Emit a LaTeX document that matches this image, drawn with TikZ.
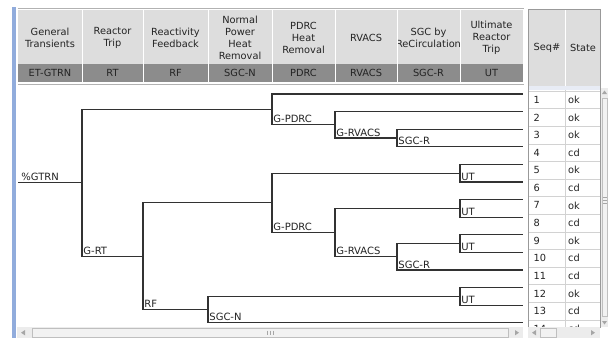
\documentclass[tikz,border=0pt]{standalone}
\usepackage{fontspec}
\setmainfont{DejaVu Sans}
\usetikzlibrary{positioning}

\definecolor{hdrgray}{RGB}{221,221,221}
\definecolor{iddark}{RGB}{140,140,140}
\definecolor{treeline}{RGB}{50,50,50}
\definecolor{txtgray}{RGB}{35,35,35}
\definecolor{gridgray}{RGB}{210,210,210}
\definecolor{barblue}{RGB}{145,172,220}
\definecolor{scrollgray}{RGB}{236,236,236}
\definecolor{selstrip}{RGB}{232,236,245}

\begin{document}
\begin{tikzpicture}[x=1pt, y=-1pt,
    branch/.style={draw=treeline, line width=1.1pt},
    lbl/.style={anchor=south west, inner xsep=1.2pt, inner ysep=1.6pt, text=txtgray, font=\fontsize{10}{12}\selectfont},
    hdr/.style={align=center, inner sep=0pt, text=txtgray, font=\fontsize{9.8}{12}\selectfont},
    cell/.style={anchor=west, inner sep=0pt, text=txtgray, font=\fontsize{9.8}{11}\selectfont},
    arrowtip/.style={fill=gray!70}]

    \useasboundingbox (0,0) rectangle (608,338);

    % Window frame bar
    \fill[barblue] (12,7) rectangle (16,338);

    % Event headings
    \fill[hdrgray] (18,10) rectangle (523,64);
    \fill[iddark] (18,64) rectangle (523,82);
    \draw[gray!60] (17.5,8.5) -- (523.5,8.5);
    \foreach \xl/\xr/\title/\id in {18/82/{General\\Transients}/ET-GTRN,
        82/143/{Reactor\\Trip}/RT, 143/208/{Reactivity\\Feedback}/RF,
        208/272/{Normal\\Power\\Heat\\Removal}/SGC-N, 272/335/{PDRC\\Heat\\Removal}/PDRC,
        335/397/RVACS/RVACS, 397/460/{SGC by\\ReCirculation}/SGC-R,
        460/523/{Ultimate\\Reactor\\Trip}/UT} {
      \draw[white, line width=1pt] (\xr,10) -- (\xr,82);
      \begin{scope}
        \clip (\xl+1,10) rectangle (\xr-1,64);
        \node[hdr] at ({(\xl+\xr)/2},37.5) {\title};
      \end{scope}
      \node[hdr] at ({(\xl+\xr)/2},73) {\id};
    }
    \draw[gray!60] (17.5,84.5) -- (523.5,84.5);

    % Sequence ends
    \foreach \i in {1,...,14}
      \coordinate (end\i) at (523,{94+17.6*(\i-1)});

    % Branch points
    \coordinate (init) at (18,182.8);
    \coordinate (rt) at (82,182.8);
    \coordinate (pdrcA) at (272,109.4);
    \coordinate (rvacsA) at (335,124.8);
    \coordinate (sgcrA) at (397,138);
    \coordinate (rf) at (143,256.25);
    \coordinate (pdrcB) at (272,202.9);
    \coordinate (utA) at (460,173.2);
    \coordinate (rvacsB) at (335,232.6);
    \coordinate (utB) at (460,208.4);
    \coordinate (sgcrB) at (397,256.8);
    \coordinate (utC) at (460,243.6);
    \coordinate (sgcn) at (208,309.6);
    \coordinate (utD) at (460,296.4);

    % Tree: up = success, down = failure
    \draw[branch] (init) -- (rt);
    \foreach \a/\b in {rt/pdrcA, rt/rf,
        pdrcA/end1, pdrcA/rvacsA, rvacsA/end2, rvacsA/sgcrA, sgcrA/end3, sgcrA/end4,
        rf/pdrcB, rf/sgcn,
        pdrcB/utA, pdrcB/rvacsB, utA/end5, utA/end6,
        rvacsB/utB, rvacsB/sgcrB, utB/end7, utB/end8,
        sgcrB/utC, sgcrB/end11, utC/end9, utC/end10,
        sgcn/utD, sgcn/end14, utD/end12, utD/end13}
      \draw[branch] (\a) |- (\b);

    % Failure branch labels
    \node[lbl, xshift=2pt] (lGTRN) at (init) {\%GTRN};
    \node[lbl] (lRT) at (rt |- rf) {G-RT};
    \node[lbl] (lRF) at (rf |- sgcn) {RF};
    \node[lbl] (lSGCN) at (sgcn |- end14) {SGC-N};
    \node[lbl] (lPDRCa) at (pdrcA |- rvacsA) {G-PDRC};
    \node[lbl] (lRVACSa) at (rvacsA |- sgcrA) {G-RVACS};
    \node[lbl] (lSGCRa) at (sgcrA |- end4) {SGC-R};
    \node[lbl] (lPDRCb) at (pdrcB |- rvacsB) {G-PDRC};
    \node[lbl] (lRVACSb) at (rvacsB |- sgcrB) {G-RVACS};
    \node[lbl] (lSGCRb) at (sgcrB |- end11) {SGC-R};
    \node[lbl] (lUTa) at (utA |- end6) {UT};
    \node[lbl] (lUTb) at (utB |- end8) {UT};
    \node[lbl] (lUTc) at (utC |- end10) {UT};
    \node[lbl] (lUTd) at (utD |- end13) {UT};

    % Sequence table
    \fill[hdrgray] (529,10) rectangle (600,86);
    \fill[selstrip] (529,86) rectangle (600,90);
    \draw[white, line width=1pt] (565,10) -- (565,86);
    \node[hdr] (seqhead) at (547,48) {Seq\#};
    \node[hdr] (statehead) at (583,48) {State};
    \begin{scope}
      \clip (529,90) rectangle (600,327);
      \draw[gridgray] (565,90) -- (565,327);
      \foreach \i/\st in {1/ok, 2/ok, 3/ok, 4/cd, 5/ok, 6/cd, 7/ok,
          8/cd, 9/ok, 10/cd, 11/cd, 12/ok, 13/cd, 14/cd} {
        \draw[gridgray] (529,{91+17.6*(\i-1)}) -- (600,{91+17.6*(\i-1)});
        \node[cell] (seq\i) at (533.5,{99.8+17.6*(\i-1)}) {\i};
        \node[cell] (st\i) at (568,{99.8+17.6*(\i-1)}) {\st};
      }
    \end{scope}
    \draw[gray!80] (528.5,9) rectangle (600.5,327);

    % Scroll bars
    \fill[scrollgray] (17,327) rectangle (523,338);
    \draw[gray!50, fill=gray!10] (32,328.5) rectangle (508,337);
    \foreach \gx in {267,270,273}
      \draw[gray!70] (\gx,330.5) -- (\gx,335);
    \fill[arrowtip] (21,332.7) -- (25,330) -- (25,335.4) -- cycle;
    \fill[arrowtip] (519,332.7) -- (515,330) -- (515,335.4) -- cycle;
    \fill[scrollgray] (528,327) rectangle (600,338);
    \draw[gray!50, fill=gray!10] (540,328.5) rectangle (556,337);
    \fill[arrowtip] (532,332.7) -- (536,330) -- (536,335.4) -- cycle;
    \fill[arrowtip] (595,332.7) -- (591,330) -- (591,335.4) -- cycle;
    \fill[scrollgray] (601,88) rectangle (608,327);
    \draw[gray!50, fill=gray!10] (602,98) rectangle (607.5,316);
    \fill[arrowtip] (604.5,90.5) -- (602,94) -- (607,94) -- cycle;
    \fill[arrowtip] (604.5,324.5) -- (602,321) -- (607,321) -- cycle;
    \foreach \gy in {197,200,203}
      \draw[gray!70] (603,\gy) -- (606.5,\gy);
\end{tikzpicture}
\end{document}
